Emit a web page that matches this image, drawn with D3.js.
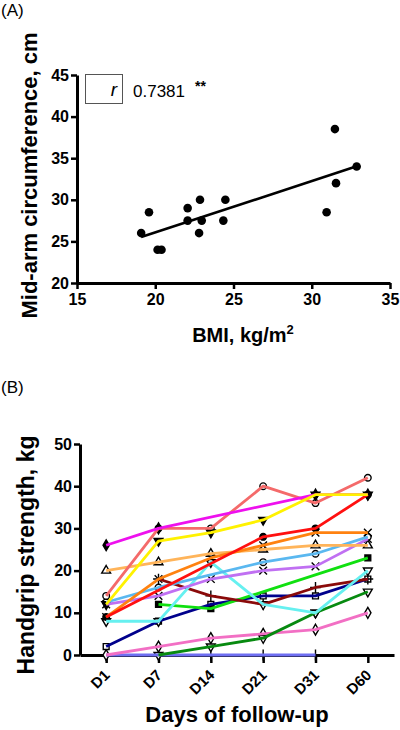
<!DOCTYPE html>
<html>
<head>
<meta charset="utf-8">
<script src="https://cdn.jsdelivr.net/npm/d3@7"></script>
<style>
  html, body { margin: 0; padding: 0; background: #fff; }
  svg { display: block; font-family: "Liberation Sans", Arial, sans-serif; }
  .tick text { font-family: "Liberation Sans", Arial, sans-serif; font-weight: bold; fill: #000; }
</style>
</head>
<body>
<svg id="chart" width="400" height="730"></svg>
<script>
// ---------- Panel A data ----------
const bmi = [19.1, 19.6, 20.15, 20.4, 22.07, 22.07, 22.86, 22.8, 22.97, 24.35, 24.48, 30.95, 31.48, 31.55, 32.87];
const mac = [26, 28.5, 24, 24, 29, 27.5, 30, 26, 27.5, 27.5, 30, 28.5, 38.5, 32, 34];
const bmiTicks = [15, 20, 25, 30, 35];
const macTicks = [20, 25, 30, 35, 40, 45];
const rLabel = "0.7381";
const sigLabel = "**";

// ---------- Panel B data ----------
const days = ["D1", "D7", "D14", "D21", "D31", "D60"];
const gripTicks = [0, 10, 20, 30, 40, 50];
const pViolet     = [0, 0, 0, 0, 0, null];
const pPink       = [0, 2, 4, 5, 6, 10];
const pDarkGreen  = [null, 0, 2, 4, 10, 15];
const pNavy       = [2, 8, 12, 14, 14, 18];
const pGreen      = [null, 12, 11, null, null, 23];
const pMaroon     = [null, 18, 14, 12, 16, 18];
const pCyan       = [8, 8, 22, 12, 10, 20];
const pPurple     = [12, 14, 18, 20, 21, 27.5];
const pSky        = [12.5, 16, null, 22, 24, 28];
const pLightOrange= [20, 22, 24, 25, 26, 26];
const pOrange     = [9, 18, 23, 26, 29, 29];
const pRed        = [9, null, null, 28, 30, 38];
const pSalmon     = [14, 30, 30, 40, 36, 42];
const pMagenta    = [26, 30, null, null, 38, 38];
const pYellow     = [12, 27, 29, 32, 38, 38];

const seriesValues = [pViolet, pPink, pDarkGreen, pNavy, pGreen, pMaroon, pCyan, pPurple, pSky,
                      pLightOrange, pOrange, pRed, pSalmon, pMagenta, pYellow];
// styles kept separately
const seriesColors = ["#6f6ff2", "#f26fc4", "#078a10", "#00008c", "#10e010", "#8a0a0a", "#66f0f0", "#c070f2", "#5ab8f0",
                      "#ffb45a", "#ff8210", "#ff1010", "#f46a6a", "#ee10ee", "#fff200"];
const seriesMarkers = ["plus", "diamondOpen", "triDownOpen", "squareOpen", "squareFill", "plus", "triDownOpen", "times", "circleOpen",
                       "triOpen", "times", "circleFill", "circleOpen", "diamondFill", "triDownFill"];

const svg = d3.select("#chart");

// ================= Panel A =================
const gA = svg.append("g");
const xA = d3.scaleLinear().domain([15, 35]).range([77, 390]);
const yA = d3.scaleLinear().domain([20, 45]).range([283, 75]);

gA.append("text").attr("x", 1).attr("y", 16).attr("font-size", 17).text("(A)");

const axA_x = gA.append("g").attr("transform", `translate(0,${yA(20)})`)
  .call(d3.axisBottom(xA).tickValues(bmiTicks).tickSize(6).tickSizeOuter(0).tickPadding(5));
const axA_y = gA.append("g").attr("transform", `translate(${xA(15)},0)`)
  .call(d3.axisLeft(yA).tickValues(macTicks).tickSize(6).tickSizeOuter(0).tickPadding(2));
[axA_x, axA_y].forEach(ax => {
  ax.select(".domain").attr("stroke-width", 3).attr("stroke", "#000");
  ax.selectAll(".tick line").attr("stroke-width", 2.5).attr("stroke", "#000");
  ax.selectAll(".tick text").style("font-size", "16px");
});

// regression line from data
const mx = d3.mean(bmi), my = d3.mean(mac);
let sxy = 0, sxx = 0;
bmi.forEach((v, i) => { sxy += (v - mx) * (mac[i] - my); sxx += (v - mx) * (v - mx); });
const slope = sxy / sxx, icpt = my - slope * mx;
const [bmin, bmax] = d3.extent(bmi);
gA.append("line")
  .attr("x1", xA(bmin)).attr("y1", yA(icpt + slope * bmin))
  .attr("x2", xA(bmax)).attr("y2", yA(icpt + slope * bmax))
  .attr("stroke", "#000").attr("stroke-width", 2.6);

gA.selectAll("circle.pt").data(bmi).enter().append("circle")
  .attr("class", "pt")
  .attr("cx", d => xA(d)).attr("cy", (d, i) => yA(mac[i])).attr("r", 4.3).attr("fill", "#000");

// r box
gA.append("rect").attr("x", 85.5).attr("y", 74.5).attr("width", 37).attr("height", 29)
  .attr("fill", "none").attr("stroke", "#555").attr("stroke-width", 1);
gA.append("text").attr("x", 117).attr("y", 96).attr("text-anchor", "end")
  .attr("font-size", 19).attr("font-style", "italic").text("r");
gA.append("text").attr("x", 133).attr("y", 97).attr("font-size", 17).text(rLabel);
gA.append("text").attr("x", 195).attr("y", 91).attr("font-size", 14).attr("font-weight", "bold").text(sigLabel);

gA.append("text").attr("transform", "translate(37,175.5) rotate(-90)")
  .attr("text-anchor", "middle").attr("font-size", 22).attr("font-weight", "bold")
  .text("Mid-arm circumference, cm");
const tA = gA.append("text").attr("x", 243).attr("y", 342).attr("text-anchor", "middle")
  .attr("font-size", 20).attr("font-weight", "bold");
tA.append("tspan").text("BMI, kg/m");
tA.append("tspan").attr("font-size", 13).attr("dy", -8).text("2");

// ================= Panel B =================
const gB = svg.append("g");
const xB = d3.scalePoint().domain(days).range([80, 394]).padding(0.5);
const yB = d3.scaleLinear().domain([0, 50]).range([655, 444]);

gB.append("text").attr("x", 1).attr("y", 393).attr("font-size", 17).text("(B)");

const axB_x = gB.append("g").attr("transform", `translate(0,${yB(0)})`)
  .call(d3.axisBottom(xB).tickSize(8).tickSizeOuter(0));
const axB_y = gB.append("g").attr("transform", `translate(80,0)`)
  .call(d3.axisLeft(yB).tickValues(gripTicks).tickSize(6).tickSizeOuter(0).tickPadding(2));
[axB_x, axB_y].forEach(ax => {
  ax.select(".domain").attr("stroke-width", 3).attr("stroke", "#000");
  ax.selectAll(".tick line").attr("stroke-width", 2.5).attr("stroke", "#000");
  ax.selectAll(".tick text").style("font-size", "16px");
});
axB_x.selectAll(".tick text")
  .attr("y", 0).attr("dy", 0)
  .attr("text-anchor", "end")
  .style("font-size", "15px")
  .attr("transform", "translate(4,21) rotate(-45)");

const symMap = {
  plus: { type: d3.symbolPlus, fill: false, rot: 0 },
  times: { type: d3.symbolTimes, fill: false, rot: 0 },
  circleOpen: { type: d3.symbolCircle, fill: false, rot: 0 },
  circleFill: { type: d3.symbolCircle, fill: true, rot: 0 },
  squareOpen: { type: d3.symbolSquare, fill: false, rot: 0 },
  squareFill: { type: d3.symbolSquare, fill: true, rot: 0 },
  triOpen: { type: d3.symbolTriangle, fill: false, rot: 0 },
  triDownOpen: { type: d3.symbolTriangle, fill: false, rot: 180 },
  triDownFill: { type: d3.symbolTriangle, fill: true, rot: 180 },
  diamondOpen: { type: d3.symbolDiamond, fill: false, rot: 0 },
  diamondFill: { type: d3.symbolDiamond, fill: true, rot: 0 }
};

const line = d3.line().x(d => xB(d.day)).y(d => yB(d.v));
const seriesData = seriesValues.map(arr => arr.map((v, i) => ({ day: days[i], v })).filter(d => d.v !== null));

// markers underneath lines
seriesData.forEach((pts, si) => {
  const m = symMap[seriesMarkers[si]];
  const sym = d3.symbol().type(m.type).size(m.type === d3.symbolPlus || m.type === d3.symbolTimes ? 40 : 34);
  gB.append("g").selectAll("path").data(pts).enter().append("path")
    .attr("d", sym)
    .attr("transform", d => `translate(${xB(d.day)},${yB(d.v)}) rotate(${m.rot})`)
    .attr("fill", m.fill ? "#000" : "#fff")
    .attr("stroke", "#000").attr("stroke-width", 1.4);
});
seriesData.forEach((pts, si) => {
  gB.append("path").datum(pts).attr("d", line)
    .attr("fill", "none").attr("stroke", seriesColors[si])
    .attr("stroke-width", 2.8).attr("stroke-linejoin", "round");
});

gB.append("text").attr("transform", "translate(34,555) rotate(-90)")
  .attr("text-anchor", "middle").attr("font-size", 23).attr("font-weight", "bold")
  .text("Handgrip strength, kg");
gB.append("text").attr("x", 237).attr("y", 722).attr("text-anchor", "middle")
  .attr("font-size", 22).attr("font-weight", "bold").text("Days of follow-up");
</script>
</body>
</html>
